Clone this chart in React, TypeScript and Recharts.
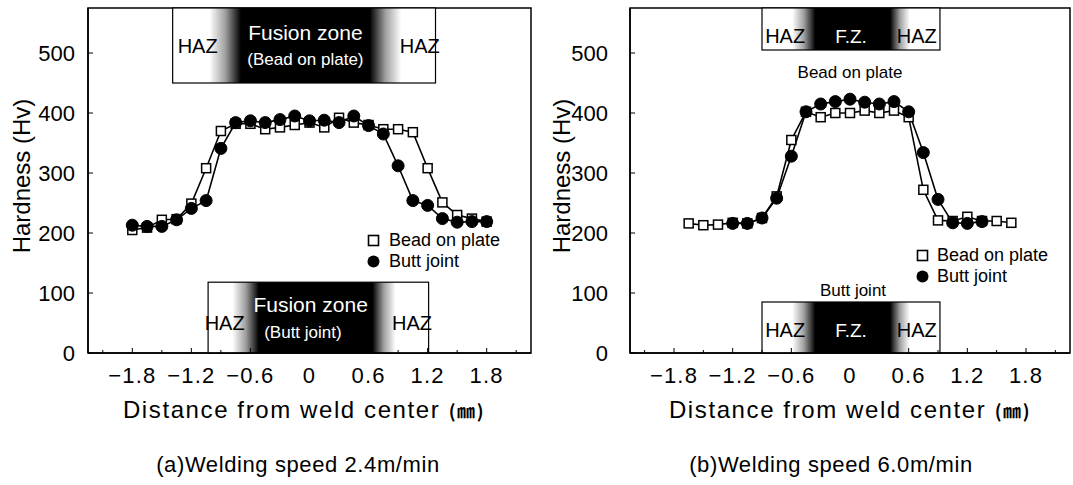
import React from 'react';
import { LineChart, Line, XAxis, YAxis, ReferenceArea, Legend } from 'recharts';

// distance from weld center (mm)
const xTicks = [-2.1, -1.8, -1.5, -1.2, -0.9, -0.6, -0.3, 0, 0.3, 0.6, 0.9, 1.2, 1.5, 1.8, 2.1];
const yTicks = [0, 100, 200, 300, 400, 500];

// (a) welding speed 2.4 m/min
const distA = [-1.8, -1.65, -1.5, -1.35, -1.2, -1.05, -0.9, -0.75, -0.6, -0.45, -0.3, -0.15, 0, 0.15, 0.3, 0.45, 0.6, 0.75, 0.9, 1.05, 1.2, 1.35, 1.5, 1.65, 1.8];
const beadA = [205, 209, 222, 223, 249, 308, 370, 382, 382, 373, 376, 380, 384, 376, 392, 384, 380, 373, 373, 368, 308, 251, 230, 224, 219];
const buttA = [213, 211, 211, 222, 241, 254, 341, 384, 387, 384, 389, 395, 387, 388, 384, 395, 379, 365, 312, 254, 246, 224, 218, 219, 219];

// (b) welding speed 6.0 m/min
const distBeadB = [-1.65, -1.5, -1.35, -1.2, -1.05, -0.9, -0.75, -0.6, -0.45, -0.3, -0.15, 0, 0.15, 0.3, 0.45, 0.6, 0.75, 0.9, 1.05, 1.2, 1.35, 1.5, 1.65];
const beadB = [216, 213, 214, 217, 216, 225, 261, 355, 402, 393, 400, 400, 404, 400, 404, 393, 272, 221, 220, 227, 220, 220, 217];
const distButtB = [-1.2, -1.05, -0.9, -0.75, -0.6, -0.45, -0.3, -0.15, 0, 0.15, 0.3, 0.45, 0.6, 0.75, 0.9, 1.05, 1.2, 1.35];
const buttB = [216, 216, 225, 258, 328, 402, 415, 419, 423, 418, 415, 419, 402, 334, 256, 217, 216, 219];

const FONT = "'Liberation Sans', Arial, Helvetica, sans-serif";
const NARROW = "'Liberation Sans Narrow', 'Liberation Sans', Arial, sans-serif";
const X_DOMAIN: [number, number] = [-2.25, 2.25];
const Y_TOP = 575;

const dataA = distA.map((d, i) => ({ d, bead: beadA[i], butt: buttA[i] }));
const beadDataB = distBeadB.map((d, i) => ({ d, bead: beadB[i] }));
const buttDataB = distButtB.map((d, i) => ({ d, butt: buttB[i] }));

const fmt = (v: number) => (v === 0 ? '0' : v < 0 ? '\u2212' + Math.abs(v).toFixed(1) : v.toFixed(1));
const isMajor = (v: number) => Math.abs(v / 0.6 - Math.round(v / 0.6)) < 1e-6;

const X_MARGIN = 22;
const XTick = (props: any) => {
  const { x, y, payload } = props;
  const v = payload.value;
  const axisY = y - X_MARGIN;
  const major = isMajor(v);
  return (
    <g>
      <line x1={x} x2={x} y1={axisY} y2={axisY - (major ? 5 : 3)} stroke="#000" strokeWidth={1} />
      {major && (
        <text x={x} y={y} dy="0.36em" textAnchor="middle" fontFamily={FONT} fontSize={22} letterSpacing={1.2} fill="#000">
          {fmt(v)}
        </text>
      )}
    </g>
  );
};

const makeYTick = (margin: number) => (props: any) => {
  const { x, y, payload } = props;
  const axisX = x + margin;
  return (
    <g>
      <line x1={axisX} x2={axisX + 5} y1={y} y2={y} stroke="#000" strokeWidth={1} />
      <text x={x} y={y} dy="0.36em" textAnchor="end" fontFamily={FONT} fontSize={22} fill="#000">
        {payload.value}
      </text>
    </g>
  );
};

type ZoneText = { t: string; fx: number; fy: number; size: number; white?: boolean };
type Zone = { id: string; x1: number; x2: number; y1: number; y2: number; stops: number[]; texts: ZoneText[] };

const zonesA: Zone[] = [
  {
    id: 'aTop', x1: -1.39, x2: 1.28, y1: 450, y2: Y_TOP, stops: [0.14, 0.26, 0.75, 0.87],
    texts: [
      { t: 'HAZ', fx: 0.095, fy: 0.5, size: 20 },
      { t: 'Fusion zone', fx: 0.505, fy: 0.33, size: 21, white: true },
      { t: '(Bead on plate)', fx: 0.505, fy: 0.68, size: 17, white: true },
      { t: 'HAZ', fx: 0.94, fy: 0.5, size: 20 },
    ],
  },
  {
    id: 'aBot', x1: -1.03, x2: 1.21, y1: 0, y2: 118, stops: [0.11, 0.23, 0.745, 0.85],
    texts: [
      { t: 'HAZ', fx: 0.075, fy: 0.57, size: 20 },
      { t: 'Fusion zone', fx: 0.465, fy: 0.32, size: 21, white: true },
      { t: '(Butt joint)', fx: 0.43, fy: 0.7, size: 17, white: true },
      { t: 'HAZ', fx: 0.925, fy: 0.57, size: 20 },
    ],
  },
];

const zonesB: Zone[] = [
  {
    id: 'bTop', x1: -0.9, x2: 0.92, y1: 505, y2: Y_TOP, stops: [0.17, 0.3, 0.72, 0.83],
    texts: [
      { t: 'HAZ', fx: 0.13, fy: 0.66, size: 20 },
      { t: 'F.Z.', fx: 0.5, fy: 0.66, size: 19, white: true },
      { t: 'HAZ', fx: 0.87, fy: 0.66, size: 20 },
    ],
  },
  {
    id: 'bBot', x1: -0.9, x2: 0.92, y1: 0, y2: 85, stops: [0.17, 0.3, 0.72, 0.83],
    texts: [
      { t: 'HAZ', fx: 0.13, fy: 0.55, size: 20 },
      { t: 'F.Z.', fx: 0.5, fy: 0.55, size: 19, white: true },
      { t: 'HAZ', fx: 0.87, fy: 0.55, size: 20 },
    ],
  },
];

const zoneShape = (z: Zone) => (p: any) => {
  const { x, y, width, height } = p;
  const gid = `grad-${z.id}`;
  return (
    <g>
      <defs>
        <linearGradient id={gid} x1="0" y1="0" x2="1" y2="0">
          <stop offset={z.stops[0]} stopColor="#fff" />
          <stop offset={(z.stops[0] + z.stops[1]) / 2} stopColor="#a0a0a0" />
          <stop offset={z.stops[1]} stopColor="#000" />
          <stop offset={z.stops[2]} stopColor="#000" />
          <stop offset={(z.stops[2] + z.stops[3]) / 2} stopColor="#a0a0a0" />
          <stop offset={z.stops[3]} stopColor="#fff" />
        </linearGradient>
      </defs>
      <rect x={x} y={y} width={width} height={height} fill={`url(#${gid})`} stroke="#000" strokeWidth={1.2} />
      {z.texts.map((t, i) => (
        <text
          key={i}
          x={x + t.fx * width}
          y={y + t.fy * height}
          dy="0.36em"
          textAnchor="middle"
          fontFamily={NARROW}
          fontSize={t.size}
          fill={t.white ? '#fff' : '#000'}
        >
          {t.t}
        </text>
      ))}
    </g>
  );
};

const squareDot = (p: any) => (
  <rect key={`s-${p.index}`} x={p.cx - 4.5} y={p.cy - 4.5} width={9} height={9} fill="#fff" stroke="#000" strokeWidth={1.5} />
);
const circleDot = (p: any) => <circle key={`c-${p.index}`} cx={p.cx} cy={p.cy} r={6} fill="#000" stroke="#000" />;

const LegendBox = ({ gap }: { gap: number }) => (
  <div style={{ fontFamily: FONT, fontSize: 18, color: '#000', lineHeight: '21px' }}>
    <div style={{ display: 'flex', alignItems: 'center' }}>
      <svg width={13} height={13} style={{ marginRight: gap }}>
        <rect x={1.5} y={1.5} width={10} height={10} fill="#fff" stroke="#000" strokeWidth={1.6} />
      </svg>
      Bead on plate
    </div>
    <div style={{ display: 'flex', alignItems: 'center' }}>
      <svg width={13} height={13} style={{ marginRight: gap }}>
        <circle cx={6.5} cy={6.5} r={6} fill="#000" />
      </svg>
      Butt joint
    </div>
  </div>
);

const text = (s: React.CSSProperties): React.CSSProperties => ({
  position: 'absolute',
  fontFamily: FONT,
  color: '#000',
  whiteSpace: 'nowrap',
  lineHeight: 1,
  ...s,
});

const unit = <span style={{ fontFamily: "'Noto Sans CJK KR', sans-serif", fontSize: 18, fontWeight: 700 }}>(㎜)</span>;

export default function App() {
  return (
    <div style={{ position: 'absolute', left: 0, top: 0, width: 1073, height: 485, background: '#fff', overflow: 'hidden' }}>
      {/* (a) 2.4 m/min */}
      <div style={{ position: 'absolute', left: 0, top: 0 }}>
        <LineChart width={540} height={485} data={dataA} margin={{ top: 8, right: 9, left: 0, bottom: 0 }}>
          <XAxis
            type="number"
            dataKey="d"
            domain={X_DOMAIN}
            ticks={xTicks}
            interval={0}
            height={132}
            tickSize={0}
            tickMargin={X_MARGIN}
            tick={<XTick />}
            axisLine={{ stroke: '#000', strokeWidth: 1.5 }}
            allowDataOverflow
          />
          <YAxis
            type="number"
            domain={[0, Y_TOP]}
            ticks={yTicks}
            interval={0}
            width={88}
            tickSize={0}
            tickMargin={13}
            tick={makeYTick(13)}
            axisLine={{ stroke: '#000', strokeWidth: 1.5 }}
            allowDataOverflow
          />
          <ReferenceArea x1={X_DOMAIN[0]} x2={X_DOMAIN[1]} y1={0} y2={Y_TOP} fill="none" stroke="#000" strokeWidth={1.5} />
          {zonesA.map((z) => (
            <ReferenceArea key={z.id} x1={z.x1} x2={z.x2} y1={z.y1} y2={z.y2} shape={zoneShape(z)} />
          ))}
          <Line dataKey="bead" stroke="#000" strokeWidth={1.6} dot={squareDot} isAnimationActive={false} />
          <Line dataKey="butt" stroke="#000" strokeWidth={1.6} dot={circleDot} isAnimationActive={false} />
          <Legend
            layout="vertical"
            align="center"
            verticalAlign="middle"
            wrapperStyle={{ left: 367, top: 230, width: 170 }}
            content={() => <LegendBox gap={9} />}
          />
        </LineChart>
      </div>

      {/* (b) 6.0 m/min */}
      <div style={{ position: 'absolute', left: 540, top: 0 }}>
        <LineChart width={533} height={485} margin={{ top: 8, right: 3, left: 0, bottom: 0 }}>
          <XAxis
            type="number"
            dataKey="d"
            domain={X_DOMAIN}
            ticks={xTicks}
            interval={0}
            height={132}
            tickSize={0}
            tickMargin={X_MARGIN}
            tick={<XTick />}
            axisLine={{ stroke: '#000', strokeWidth: 1.5 }}
            allowDataOverflow
          />
          <YAxis
            type="number"
            domain={[0, Y_TOP]}
            ticks={yTicks}
            interval={0}
            width={90}
            tickSize={0}
            tickMargin={22}
            tick={makeYTick(22)}
            axisLine={{ stroke: '#000', strokeWidth: 1.5 }}
            allowDataOverflow
          />
          <ReferenceArea x1={X_DOMAIN[0]} x2={X_DOMAIN[1]} y1={0} y2={Y_TOP} fill="none" stroke="#000" strokeWidth={1.5} />
          {zonesB.map((z) => (
            <ReferenceArea key={z.id} x1={z.x1} x2={z.x2} y1={z.y1} y2={z.y2} shape={zoneShape(z)} />
          ))}
          <Line data={beadDataB} dataKey="bead" stroke="#000" strokeWidth={1.6} dot={squareDot} isAnimationActive={false} />
          <Line data={buttDataB} dataKey="butt" stroke="#000" strokeWidth={1.6} dot={circleDot} isAnimationActive={false} />
          <Legend
            layout="vertical"
            align="center"
            verticalAlign="middle"
            wrapperStyle={{ left: 376, top: 245, width: 160 }}
            content={() => <LegendBox gap={8} />}
          />
        </LineChart>
      </div>

      {/* axis titles and captions */}
      <div style={text({ left: 22, top: 176, fontSize: 24, transform: 'translate(-50%, -50%) rotate(-90deg)' })}>Hardness (Hv)</div>
      <div style={text({ left: 562, top: 176, fontSize: 24, transform: 'translate(-50%, -50%) rotate(-90deg)' })}>Hardness (Hv)</div>
      <div style={text({ left: 304, top: 410, fontSize: 24, letterSpacing: 1.6, transform: 'translate(-50%, -50%)' })}>
        Distance from weld center {unit}
      </div>
      <div style={text({ left: 850, top: 410, fontSize: 24, letterSpacing: 1.6, transform: 'translate(-50%, -50%)' })}>
        Distance from weld center {unit}
      </div>
      <div style={text({ left: 850, top: 72, fontSize: 17, transform: 'translate(-50%, -50%)' })}>Bead on plate</div>
      <div style={text({ left: 853, top: 290, fontSize: 17, transform: 'translate(-50%, -50%)' })}>Butt joint</div>
      <div style={text({ left: 298, top: 465, fontSize: 22, letterSpacing: 0.6, transform: 'translate(-50%, -50%)' })}>(a)Welding speed 2.4m/min</div>
      <div style={text({ left: 831, top: 465, fontSize: 22, letterSpacing: 0.6, transform: 'translate(-50%, -50%)' })}>(b)Welding speed 6.0m/min</div>
    </div>
  );
}
